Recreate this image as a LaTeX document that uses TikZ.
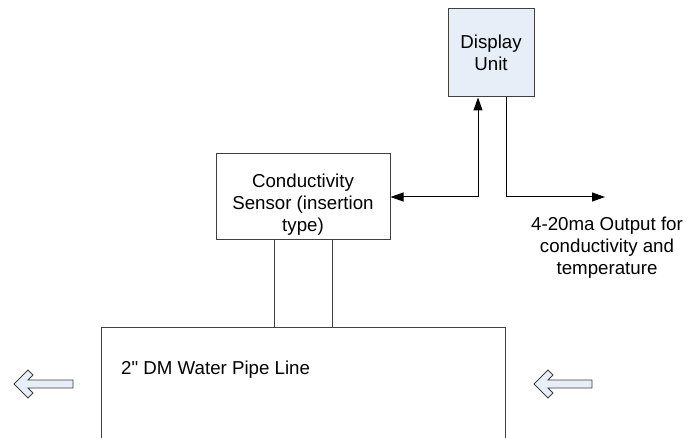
\documentclass[tikz,border=0pt]{standalone}
\usepackage{fontspec}
\setmainfont{Liberation Sans}[Ligatures=TeXOff]
\usetikzlibrary{arrows.meta}
\definecolor{boxfill}{HTML}{E8EEF7}
\definecolor{edgegray}{HTML}{404040}
\begin{document}
\begin{tikzpicture}[x=1pt,y=-1pt,
  box/.style={draw=edgegray, line width=1pt, rectangle, inner sep=0pt},
  lbl/.style={font=\fontsize{18.7}{22}\selectfont, align=center, inner sep=0pt, text=black},
  conn/.style={draw=black, line width=1pt},
  tip/.style={-{Triangle[length=13pt,width=9pt]}},
  bothtips/.style={{Triangle[length=13pt,width=9pt]}-{Triangle[length=13pt,width=9pt]}},
  flowarrow/.style={draw=edgegray, fill=boxfill, line width=0.9pt, line join=miter}]
\useasboundingbox (0,0) rectangle (690,438);

% boxes
\node[box, fill=boxfill, minimum width=86pt, minimum height=88pt] (disp) at (491,53) {};
\node[lbl] (disptext) at (491,53) {Display\\Unit};
\node[box, fill=white, minimum width=174pt, minimum height=86pt] (sensor) at (303,197) {};
\node[lbl] (sensortext) at (303,204.5) {Conductivity\\Sensor (insertion\\type)};
\node[box, minimum width=404pt, minimum height=140pt] (pipe) at (303,397) {};
\node[lbl, anchor=base west] (pipetext) at (121,374) {2" DM Water Pipe Line};
\node[lbl] (outtext) at (607,248) {4-20ma Output for\\conductivity and\\temperature};

% helper coordinates
\coordinate (upx) at (478,0);
\coordinate (downx) at (506,0);
\coordinate (outend) at (605,197);
\coordinate (legA) at (274,0);
\coordinate (legB) at (332,0);

% connectors
\draw[conn, bothtips] (sensor.east) -| (disp.south -| upx);
\draw[conn, tip] (disp.south -| downx) |- (outend);
\draw[conn, draw=edgegray] (sensor.south -| legA) -- (pipe.north -| legA);
\draw[conn, draw=edgegray] (sensor.south -| legB) -- (pipe.north -| legB);

% flow arrows
\draw[flowarrow] (14,384) -- (28,370) -- (33,375) -- (28,380) -- (73,380) -- (73,388) -- (28,388) -- (33,393) -- (28,398) -- cycle;
\draw[flowarrow] (534,384) -- (548,370) -- (553,375) -- (548,380) -- (592,380) -- (592,388) -- (548,388) -- (553,393) -- (548,398) -- cycle;
\end{tikzpicture}
\end{document}
